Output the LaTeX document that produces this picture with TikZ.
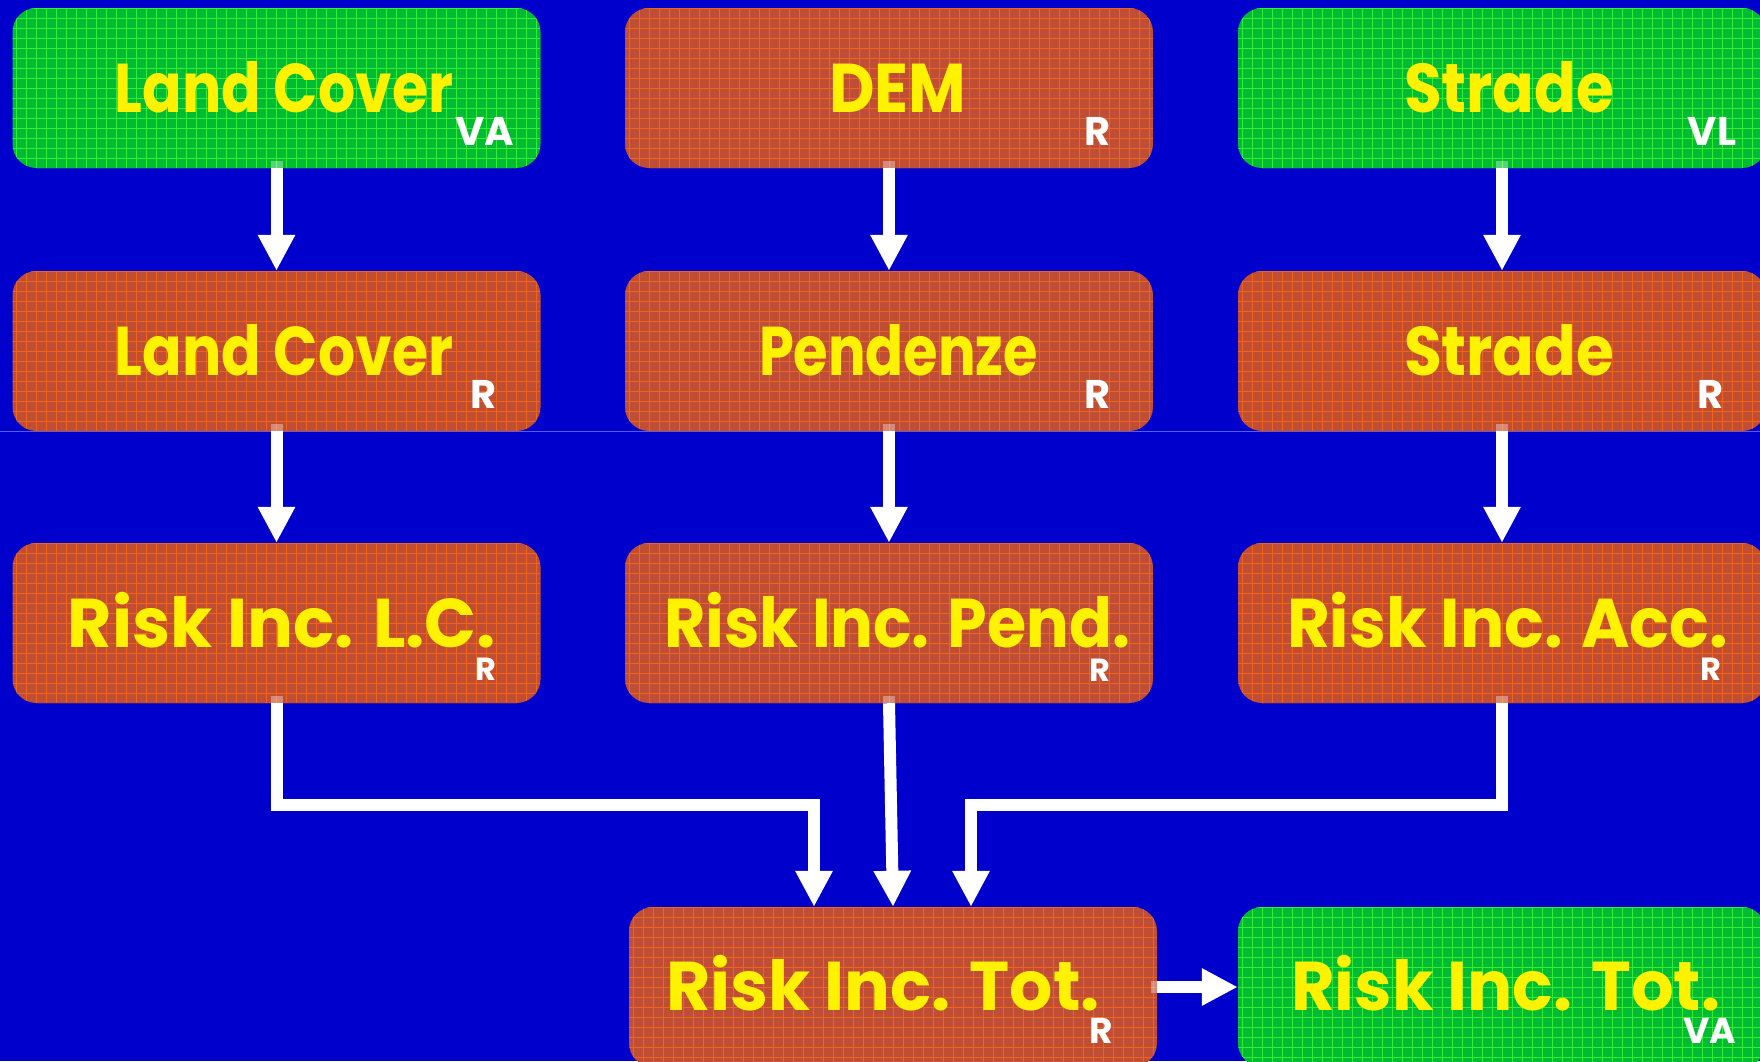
\documentclass[tikz,border=0pt]{standalone}
\usepackage{fontspec}
\setmainfont{Poppins}
\usepackage{graphicx}
\usetikzlibrary{arrows.meta}

\definecolor{bg}{HTML}{0000CC}
\definecolor{gfill}{HTML}{00BB33}
\definecolor{ggrid}{HTML}{33EE33}
\definecolor{ofill}{HTML}{C04E34}
\definecolor{ogrid}{HTML}{F0641A}
\definecolor{seam}{HTML}{5A5AE6}

% squeeze or stretch a label horizontally to a given width
\newcommand\fitw[2]{\resizebox{#1}{\height}{#2}}

\begin{document}
\begin{tikzpicture}[x=1pt,y=-1pt,
  box/.style={rectangle, rounded corners=24pt, minimum width=528pt,
    minimum height=160pt, inner sep=0pt, draw=none},
  gbox/.style={box, fill=gfill, path picture={
    \draw[ggrid, line width=1pt]
      ([shift={(-6pt,-6pt)}]path picture bounding box.south west)
      grid[step=10pt] (path picture bounding box.north east);}},
  obox/.style={box, fill=ofill, path picture={
    \draw[ogrid, line width=1pt]
      ([shift={(-6pt,-6pt)}]path picture bounding box.south west)
      grid[step=10pt] (path picture bounding box.north east);}},
  title/.style={anchor=base, inner sep=0pt, text=yellow,
    font=\fontsize{69}{69}\selectfont\bfseries},
  sub/.style={anchor=base, inner sep=0pt, text=white,
    font=\fontsize{#1}{#1}\selectfont\bfseries},
  conn/.style={draw=white, line width=12pt,
    -{Triangle[length=36pt,width=35pt]}},
  stub/.style={fill=white, opacity=0.35},
]
% canvas
\fill[bg] (0,0) rectangle (1760,1061);
\useasboundingbox (0,0) rectangle (1760,1061);
\draw[seam, line width=1pt] (0,431) -- (1760,431);

% boxes
\node[gbox] (lcva)   at (276.5,88)  {};
\node[obox] (dem)    at (889,88)    {};
\node[gbox] (strvl)  at (1502,88)   {};
\node[obox] (lcr)    at (276.5,351) {};
\node[obox] (pend)   at (889,351)   {};
\node[obox] (strr)   at (1502,351)  {};
\node[obox] (rlc)    at (276.5,623) {};
\node[obox] (rpend)  at (889,623)   {};
\node[obox] (racc)   at (1502,623)  {};
\node[obox] (rtot)   at (893,987)   {};
\node[gbox] (rtotva) at (1502,987)  {};

% main labels
\node[title] (t1)  at (284,112)    {\fitw{338pt}{Land Cover}};
\node[title] (t2)  at (897.5,112)  {\fitw{137pt}{DEM}};
\node[title] (t3)  at (1509,112)   {\fitw{210pt}{Strade}};
\node[title] (t4)  at (284,375)    {\fitw{338pt}{Land Cover}};
\node[title] (t5)  at (898.5,375)  {\fitw{279pt}{Pendenze}};
\node[title] (t6)  at (1509,375)   {\fitw{210pt}{Strade}};
\node[title] (t7)  at (282,647)    {\fitw{428pt}{Risk Inc. L.C.}};
\node[title] (t8)  at (897,647)    {\fitw{466pt}{Risk Inc. Pend.}};
\node[title] (t9)  at (1507.5,647) {\fitw{441pt}{Risk Inc. Acc.}};
\node[title] (t10) at (883,1010)   {\fitw{434pt}{Risk Inc. Tot.}};
\node[title] (t11) at (1505.5,1010){\fitw{429pt}{Risk Inc. Tot.}};

% map type tags
\node[sub=40] (s1)  at (485,145)   {VA};
\node[sub=40] (s2)  at (1098,145)  {R};
\node[sub=40] (s3)  at (1712,145)  {VL};
\node[sub=40] (s4)  at (484,408)   {R};
\node[sub=40] (s5)  at (1098,408)  {R};
\node[sub=40] (s6)  at (1711,408)  {R};
\node[sub=32] (s7)  at (486,680)   {R};
\node[sub=32] (s8)  at (1100,681)  {R};
\node[sub=32] (s9)  at (1711,680)  {R};
\node[sub=36] (s10) at (1101,1043) {R};
\node[sub=36] (s11) at (1710,1043) {VA};

% connectors
\draw[conn] (lcva.south)  -- (lcr.north);
\draw[conn] (dem.south)   -- (pend.north);
\draw[conn] (strvl.south) -- (strr.north);
\draw[conn] (lcr.south)   -- (rlc.north);
\draw[conn] (pend.south)  -- (rpend.north);
\draw[conn] (strr.south)  -- (racc.north);
\draw[conn] (rlc.south) -- ++(0,102) -| ([xshift=-79pt]rtot.north);
\draw[conn] (rpend.south) -- (rtot.north);
\draw[conn] (racc.south) -- ++(0,102) -| ([xshift=78pt]rtot.north);
\draw[conn] (rtot.east) -- (rtotva.west);

% light tabs where the connectors leave their boxes
\foreach \n in {lcva,dem,strvl,lcr,pend,strr,rlc,rpend,racc}
  \fill[stub] ([xshift=-6pt]\n.south) rectangle ([xshift=6pt,yshift=7pt]\n.south);
\fill[stub] ([yshift=-6pt]rtot.east) rectangle ([xshift=-6pt,yshift=6pt]rtot.east);
\end{tikzpicture}
\end{document}
